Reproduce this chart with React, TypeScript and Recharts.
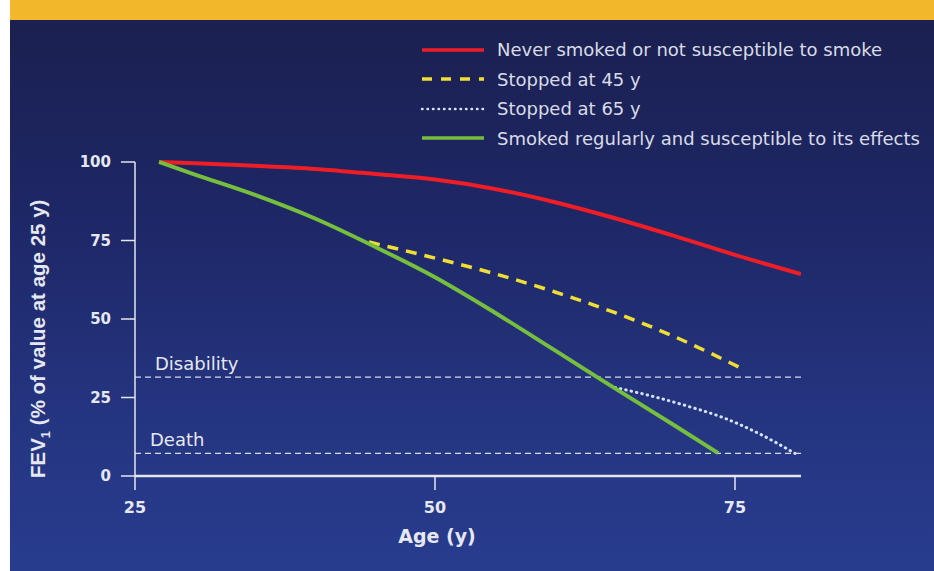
import React from 'react';
import { LineChart, Line, XAxis, YAxis, ReferenceLine, Legend, Customized } from 'recharts';

// FEV1 decline with age
const neverAges = [27, 30, 35, 40, 45, 50, 55, 60, 65, 70, 75, 80.5];
const neverValues = [100, 99.6, 98.8, 97.8, 96.2, 94.4, 91.4, 87.2, 82.1, 76.4, 70.4, 64.3];
const smokerAges = [27, 30, 35, 40, 45, 50, 55, 60, 65, 70, 73.6];
const smokerValues = [100, 96, 89.5, 82, 73, 63.3, 52, 40, 27.9, 16, 7.3];
const stop45Ages = [44.5, 50, 55, 60, 65, 70, 75.7];
const stop45Values = [74.5, 69.4, 64.4, 58.6, 52, 44.3, 34];
const stop65Ages = [65, 68, 71, 74, 77, 80];
const stop65Values = [28.2, 25.5, 22.3, 18.6, 13.5, 7.2];

const xTicks = [25, 50, 75];
const yTicks = [0, 25, 50, 75, 100];
const disabilityLevel = 31.5;
const deathLevel = 7.2;

const toRows = (ages: number[], values: number[]) => ages.map((age, i) => ({ age, fev: values[i] }));

const series = [
  { key: 'never', name: 'Never smoked or not susceptible to smoke', data: toRows(neverAges, neverValues), color: '#ee1d26', width: 4, dash: undefined },
  { key: 'stop45', name: 'Stopped at 45 y', data: toRows(stop45Ages, stop45Values), color: '#f0df32', width: 3.5, dash: '11 8' },
  { key: 'stop65', name: 'Stopped at 65 y', data: toRows(stop65Ages, stop65Values), color: '#d4e2f6', width: 3, dash: '0.5 5' },
  { key: 'smoker', name: 'Smoked regularly and susceptible to its effects', data: toRows(smokerAges, smokerValues), color: '#76be3d', width: 4, dash: undefined },
];

const textColor = '#e6e8f0';
const font = '"DejaVu Sans", sans-serif';
const titleFont = '"Liberation Sans", Arial, sans-serif';

function LegendBox() {
  return (
    <div style={{ fontFamily: font, fontSize: 18, color: '#d9dce6' }}>
      {series.map((s) => (
        <div key={s.key} style={{ display: 'flex', alignItems: 'center', height: 29.5 }}>
          <svg width={66} height={10} style={{ marginRight: 11 }}>
            <line
              x1={2}
              x2={64}
              y1={5}
              y2={5}
              stroke={s.color}
              strokeWidth={s.key === 'stop65' ? 2.5 : 3.5}
              strokeLinecap={s.key === 'stop65' ? 'round' : 'butt'}
              strokeDasharray={s.key === 'stop45' ? '10 9' : s.key === 'stop65' ? '0.5 5' : undefined}
            />
          </svg>
          <span>{s.name}</span>
        </div>
      ))}
    </div>
  );
}

function AxisTitle() {
  return (
    <text
      transform="translate(45 478) rotate(-90)"
      textAnchor="start"
      fill={textColor}
      fontFamily={titleFont}
      fontWeight="bold"
      fontSize={20.5}
    >
      FEV
      <tspan fontSize={13} dy={5}>1</tspan>
      <tspan dy={-5}> (% of value at age 25 y)</tspan>
    </text>
  );
}

function refLabel(text: string, dx: number) {
  return (props: any) => {
    const vb = props.viewBox || {};
    return (
      <text x={(vb.x || 0) + dx} y={(vb.y || 0) - 7} fill={textColor} fontFamily={font} fontSize={18}>
        {text}
      </text>
    );
  };
}

function AgeLabel() {
  return (
    <text x={437} y={543} textAnchor="middle" fill={textColor} fontFamily={font} fontWeight="bold" fontSize={19}>
      Age (y)
    </text>
  );
}

export default function App() {
  return (
    <div
      style={{
        position: 'absolute',
        left: 0,
        top: 0,
        width: 934,
        height: 571,
        background: '#ffffff',
        overflow: 'hidden',
      }}
    >
      <div style={{ position: 'absolute', left: 10, top: 0, width: 924, height: 20, background: '#f2b72b' }} />
      <div
        style={{
          position: 'absolute',
          left: 10,
          top: 20,
          width: 924,
          height: 551,
          background: 'linear-gradient(180deg, #1b2050 0%, #1e2766 35%, #24347f 70%, #283c8e 100%)',
        }}
      />
      <div style={{ position: 'absolute', left: 0, top: 0 }}>
        <LineChart width={934} height={571} margin={{ top: 162, right: 133, bottom: 65, left: 75 }}>
          <XAxis
            type="number"
            dataKey="age"
            domain={[25, 80.5]}
            ticks={xTicks}
            allowDataOverflow
            height={30}
            stroke="#e4e6ee"
            strokeWidth={2.5}
            tickSize={14}
            tickMargin={12}
            tickLine={{ stroke: '#e4e6ee', strokeWidth: 1.5 }}
            tick={{ fill: textColor, fontSize: 16, fontWeight: 'bold', fontFamily: font }}
            label={AgeLabel}
          />
          <YAxis
            type="number"
            dataKey="fev"
            domain={[0, 100]}
            ticks={yTicks}
            width={60}
            stroke="#e4e6ee"
            strokeWidth={1.5}
            tickSize={14}
            tickMargin={10}
            tick={{ fill: textColor, fontSize: 15, fontWeight: 'bold', fontFamily: font }}
          />
          <ReferenceLine
            y={disabilityLevel}
            stroke="#d8dbe8"
            strokeWidth={1.4}
            strokeDasharray="6 4"
            label={refLabel('Disability', 20)}
          />
          <ReferenceLine
            y={deathLevel}
            stroke="#d8dbe8"
            strokeWidth={1.4}
            strokeDasharray="6 4"
            label={refLabel('Death', 15)}
          />
          {series.map((s) => (
            <Line
              key={s.key}
              data={s.data}
              dataKey="fev"
              name={s.name}
              type="monotone"
              stroke={s.color}
              strokeWidth={s.width}
              strokeDasharray={s.dash}
              strokeLinecap={s.key === 'stop65' ? 'round' : 'butt'}
              dot={false}
              activeDot={false}
              isAnimationActive={false}
            />
          ))}
          <Legend
            layout="vertical"
            align="center"
            verticalAlign="middle"
            wrapperStyle={{ left: 420, top: 35, width: 510 }}
            content={() => <LegendBox />}
          />
          <Customized component={AxisTitle} />
        </LineChart>
      </div>
    </div>
  );
}
